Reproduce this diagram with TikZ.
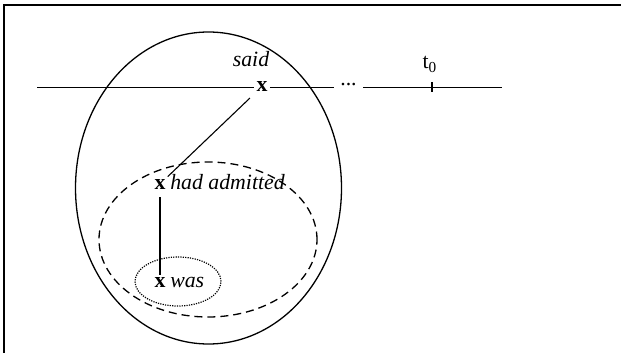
\documentclass[tikz,border=0pt]{standalone}
\usepackage{fontspec}
\setmainfont{Liberation Serif}
\usetikzlibrary{positioning,calc}
\newcommand\labsize{\fontsize{10.9}{13}\selectfont}
\tikzset{
  var/.style={inner sep=1pt, font=\labsize\bfseries},
  word/.style={inner sep=1pt, font=\labsize\itshape},
  plain/.style={inner sep=1pt, font=\labsize},
  link/.style={line width=0.55pt},
  ring/.style={line width=0.65pt},
  pastring/.style={line width=0.65pt, dash pattern=on 4pt off 2.5pt},
  nowring/.style={line width=0.6pt, dash pattern=on 0.6pt off 0.6pt},
}

\begin{document}
\begin{tikzpicture}[x=0.5pt,y=-0.5pt]
\useasboundingbox (0,0) rectangle (621,353);
\draw[line width=0.8pt] (621,5) -- (4,5) -- (4,353);
% scopes
\draw[ring] (208.5,188) ellipse [x radius=66.5pt, y radius=78pt];
\draw[pastring] (208,239.5) ellipse [x radius=54.5pt, y radius=38.75pt];
\draw[nowring] (178,281.5) ellipse [x radius=21.5pt, y radius=12.25pt];
% time line
\coordinate (tl) at (37,87.5);
\coordinate (tr) at (502,87.5);
\coordinate (t0) at (432,87.5);
\node[var] (xsaid) at (262,86.5) {x};
\node[word, anchor=base] (said) at (251,67) {said};
\node[plain, inner sep=3pt, anchor=base] (dots) at (348.5,86) {...};
\node[plain, anchor=base] (tlab) at (430,69) {t\textsubscript{0}};
\draw[link] (tl) -- (tl -| xsaid.west);
\draw[link] (tl -| xsaid.east) -- (tl -| dots.west);
\draw[link] (tl -| dots.east) -- (tr);
\draw[line width=0.9pt] ($(t0)+(0,-5)$) -- ($(t0)+(0,5)$);
% embedded clauses
\node[var] (xhad) at (160,184) {x};
\node[word, anchor=base west] (had) at (xhad.base east) {had admitted};
\node[var] (xwas) at (160,282) {x};
\node[word, anchor=base west] (was) at (xwas.base east) {was};
\draw[link, shorten <=3pt] (xsaid) -- (xhad);
\draw[link, shorten <=3pt] (xhad) -- (xwas);
\end{tikzpicture}
\end{document}
